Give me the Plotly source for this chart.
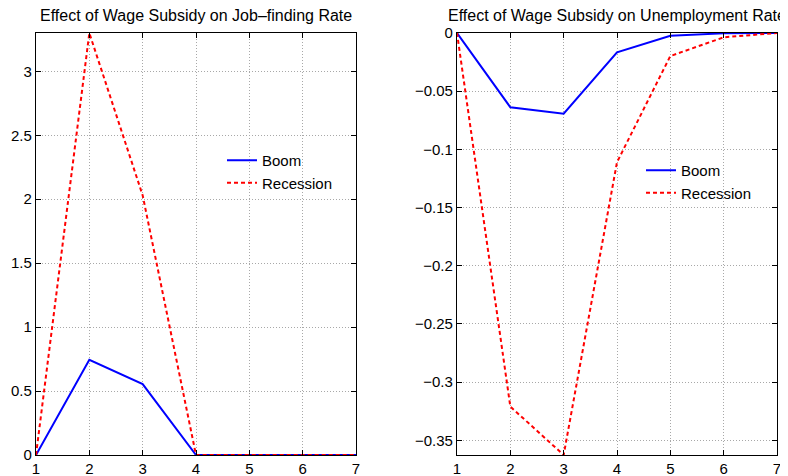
import plotly.graph_objects as go

periods = [1, 2, 3, 4, 5, 6, 7]
jf_boom = [0, 0.745, 0.555, 0, 0, 0, 0]
jf_recession = [0, 3.3, 2.03, 0, 0, 0, 0]
ur_boom = [0, -0.0638, -0.0693, -0.0166, -0.0023, -0.0003, 0]
ur_recession = [0, -0.321, -0.3626, -0.111, -0.0198, -0.0037, 0]

jf_ticks = [0, 0.5, 1, 1.5, 2, 2.5, 3]
jf_ticktext = ["0", "0.5", "1", "1.5", "2", "2.5", "3"]
ur_ticks = [0, -0.05, -0.1, -0.15, -0.2, -0.25, -0.3, -0.35]
ur_ticktext = ["0", "\u22120.05", "\u22120.1", "\u22120.15", "\u22120.2", "\u22120.25", "\u22120.3", "\u22120.35"]

titles = ["Effect of Wage Subsidy on Job\u2013finding Rate",
          "Effect of Wage Subsidy on Unemployment Rate"]

BLUE = "#0000ff"
RED = "#ff0000"
FONT = "Liberation Sans, Arial, sans-serif"
DASH = "4px,3px"

fig = go.Figure()
fig.add_trace(go.Scatter(x=periods, y=jf_boom, mode="lines", name="Boom",
                         line=dict(color=BLUE, width=2), xaxis="x", yaxis="y", legend="legend"))
fig.add_trace(go.Scatter(x=periods, y=jf_recession, mode="lines", name="Recession",
                         line=dict(color=RED, width=2, dash=DASH), xaxis="x", yaxis="y", legend="legend"))
fig.add_trace(go.Scatter(x=periods, y=ur_boom, mode="lines", name="Boom",
                         line=dict(color=BLUE, width=2), xaxis="x2", yaxis="y2", legend="legend2"))
fig.add_trace(go.Scatter(x=periods, y=ur_recession, mode="lines", name="Recession",
                         line=dict(color=RED, width=2, dash=DASH), xaxis="x2", yaxis="y2", legend="legend2"))

# page has 8px body margin; figure coords = page coords - 8
OFF = 8
W, H = 780, 468
ml, mr, mt, mb = 28, 11, 25, 21
pw = W - ml - mr
ph = H - mt - mb
d1 = [0, 320 / pw]
d2 = [(457 - OFF - ml) / pw, 1]


def px(page_x):
    return (page_x - OFF - ml) / pw


def py(page_y):
    return 1 - (page_y - OFF - mt) / ph


ax_common = dict(showline=True, linecolor="black", linewidth=1.2, mirror="ticks",
                 ticks="inside", ticklen=5, tickcolor="black", automargin=False,
                 showgrid=True, gridcolor="#a8a8a8", griddash="1px,2px", gridwidth=1,
                 zeroline=False, tickfont=dict(family=FONT, size=15, color="black"))

leg_common = dict(xanchor="left", yanchor="top", bgcolor="rgba(0,0,0,0)", borderwidth=0,
                  itemwidth=30, tracegroupgap=0, font=dict(family=FONT, size=15, color="black"))

fig.update_layout(
    width=W, height=H,
    margin=dict(l=ml, r=mr, t=mt, b=mb, autoexpand=False),
    paper_bgcolor="white", plot_bgcolor="white",
    font=dict(family=FONT, size=15, color="black"),
    xaxis=dict(domain=d1, range=[1, 7], tickvals=periods, anchor="y", **ax_common),
    yaxis=dict(domain=[0, 1], range=[0, 3.3], tickvals=jf_ticks, ticktext=jf_ticktext,
               anchor="x", **ax_common),
    xaxis2=dict(domain=d2, range=[1, 7], tickvals=periods, anchor="y2", **ax_common),
    yaxis2=dict(domain=[0, 1], range=[-0.3626, 0], tickvals=ur_ticks, ticktext=ur_ticktext,
                anchor="x2", **ax_common),
    legend=dict(x=px(222), y=py(144), **leg_common),
    legend2=dict(x=px(641), y=py(154), **leg_common),
    showlegend=True,
)

fig.add_annotation(text=titles[0], x=(d1[0] + d1[1]) / 2, y=1, xref="paper", yref="paper",
                   xanchor="center", yanchor="bottom", yshift=7, showarrow=False,
                   font=dict(family=FONT, size=16, color="black"))
fig.add_annotation(text=titles[1], x=(d2[0] + d2[1]) / 2, y=1, xref="paper", yref="paper",
                   xanchor="center", yanchor="bottom", yshift=7, showarrow=False,
                   font=dict(family=FONT, size=16, color="black"))

fig.write_html("out.html")
